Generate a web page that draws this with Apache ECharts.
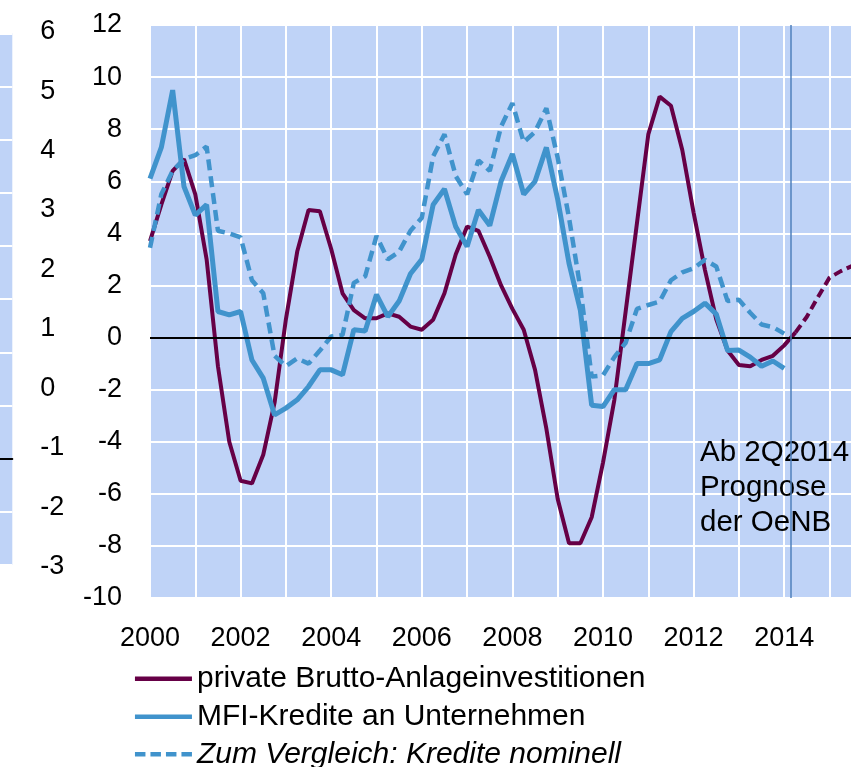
<!DOCTYPE html>
<html><head><meta charset="utf-8">
<script src="https://cdn.jsdelivr.net/npm/echarts@6/dist/echarts.min.js"></script>
<style>html,body{margin:0;padding:0;background:#fff}#c{width:851px;height:767px}</style>
</head><body><div id="c"></div>
<script>
// Quarterly data, first quarter = 2000Q1
const startYear = 2000;
const investitionen = [3.7, 5.1, 6.4, 6.85, 5.5, 3.0, -1.1, -4.0, -5.5, -5.6, -4.5, -2.5, 0.7, 3.3, 4.9, 4.85, 3.4, 1.7, 1.05, 0.74, 0.74, 0.93, 0.8, 0.42, 0.3, 0.68, 1.7, 3.2, 4.26, 4.1, 3.1, 2.0, 1.1, 0.3, -1.24, -3.5, -6.2, -7.9, -7.9, -6.9, -4.8, -2.4, 1.0, 4.4, 7.8, 9.25, 8.9, 7.2, 4.8, 2.6, 0.7, -0.5, -1.05, -1.1, -0.86, -0.7, -0.3, 0.2];
const prognoseStart = 57; // index of 2014Q2
const prognose = [0.2, 0.8, 1.57, 2.3, 2.55, 2.75];
const mfiKredite = [6.1, 7.3, 9.5, 5.8, 4.7, 5.1, 1.0, 0.87, 1.0, -0.86, -1.56, -2.97, -2.71, -2.39, -1.88, -1.24, -1.24, -1.43, 0.3, 0.25, 1.65, 0.8, 1.4, 2.45, 3.0, 5.1, 5.7, 4.25, 3.5, 4.9, 4.3, 6.0, 7.05, 5.5, 6.0, 7.3, 5.3, 2.85, 1.05, -2.6, -2.65, -2.0, -2.0, -1.0, -1.0, -0.86, 0.23, 0.74, 1.0, 1.32, 0.9, -0.5, -0.48, -0.75, -1.1, -0.9, -1.18];
const krediteNominell = [3.45, 5.5, 6.4, 6.85, 7.0, 7.33, 4.1, 4.0, 3.85, 2.2, 1.7, -0.7, -1.1, -0.8, -1.0, -0.5, 0.04, 0.1, 2.1, 2.35, 3.9, 3.0, 3.3, 4.1, 4.6, 6.95, 7.8, 6.2, 5.5, 6.8, 6.4, 8.1, 9.0, 7.5, 7.9, 8.8, 6.9, 4.6, 1.9, -1.5, -1.45, -0.75, -0.2, 1.1, 1.25, 1.38, 2.2, 2.5, 2.66, 2.98, 2.73, 1.4, 1.45, 0.95, 0.5, 0.4, 0.15];
const seriesNames = ['private Brutto-Anlageinvestitionen', 'MFI-Kredite an Unternehmen', 'Zum Vergleich: Kredite nominell'];
const lastYearLabel = 2014;
const forecastMarker = 2014.15;
const annotation = 'Ab 2Q2014\nPrognose\nder OeNB';

const FONT = 'Liberation Sans, Arial, sans-serif';
const PURPLE = '#660046', BLUE = '#4093cc';
const toXY = (arr, offset) => arr.map((v, i) => [startYear + (i + offset) / 4, v]);

const legendTops = [663.7, 701.7, 739.3];
const mkLegend = (name, top, extraText, lineStyle) => ({
  orient: 'vertical', left: 132.7, top: top, padding: 0, itemWidth: 57, itemHeight: 28, itemGap: 0,
  textStyle: Object.assign({fontSize: 30, color: '#000', fontFamily: FONT, lineHeight: 28}, extraText || {}),
  itemStyle: {opacity: 0, borderWidth: 0},
  lineStyle: lineStyle,
  data: [{name: name}]
});

const chart = echarts.init(document.getElementById('c'), null, {renderer: 'canvas'});
chart.setOption({
  animation: false,
  grid: [
    {left: 150, top: 25, width: 724.8, height: 573, show: true, backgroundColor: '#bfd3f7', borderWidth: 0, outerBoundsMode: 'none', containLabel: false},
    {left: 0, top: 33.3, width: 12.3, height: 531.7, show: true, backgroundColor: '#bfd3f7', borderWidth: 0, outerBoundsMode: 'none', containLabel: false},
    {left: 0, top: 31.7, width: 12.3, height: 535, show: false, outerBoundsMode: 'none', containLabel: false}
  ],
  xAxis: [
    {gridIndex: 0, type: 'value', min: 2000, max: 2016, interval: 1,
     axisLine: {show: false}, axisTick: {show: false},
     splitLine: {show: true, lineStyle: {color: '#fff', width: 2}},
     axisLabel: {formatter: v => (v % 2 === 0 && v <= lastYearLabel ? String(v) : ''), fontSize: 27, color: '#000', margin: 27, fontFamily: FONT}},
    {gridIndex: 1, type: 'value', min: 0, max: 1,
     axisLabel: {show: false}, axisTick: {show: false}, splitLine: {show: false},
     axisLine: {show: true, onZero: true, lineStyle: {color: '#000', width: 2}}},
    {gridIndex: 2, type: 'value', min: 0, max: 1, show: false}
  ],
  yAxis: [
    {gridIndex: 0, type: 'value', min: -10, max: 12, interval: 2,
     axisLine: {show: false}, axisTick: {show: false},
     splitLine: {lineStyle: {color: '#fff', width: 2}},
     axisLabel: {fontSize: 27, color: '#000', margin: 28, fontFamily: FONT}},
    {gridIndex: 1, type: 'value', min: -2, max: 8, interval: 1,
     axisLine: {show: false}, axisTick: {show: false}, axisLabel: {show: false},
     splitLine: {lineStyle: {color: '#fff', width: 2}}},
    {gridIndex: 2, type: 'value', min: -3, max: 6, interval: 1, position: 'right',
     axisLine: {show: false}, axisTick: {show: false}, splitLine: {show: false},
     axisLabel: {fontSize: 27, color: '#000', margin: 28, fontFamily: FONT}}
  ],
  legend: [
    mkLegend(seriesNames[0], legendTops[0], null, {width: 4.5}),
    mkLegend(seriesNames[1], legendTops[1], null, {width: 4.5}),
    mkLegend(seriesNames[2], legendTops[2], {fontStyle: 'italic'}, {width: 4.5, type: [10.5, 5]})
  ],
  graphic: [
    {type: 'text', left: 700, top: 435, z: 1,
     style: {text: annotation, font: '29.5px Liberation Sans', fill: '#000', lineHeight: 35}}
  ],
  series: [
    {type: 'line', name: 'markers', xAxisIndex: 0, yAxisIndex: 0, data: [], z: 1, silent: true,
     markLine: {silent: true, symbol: 'none', label: {show: false},
       data: [
         {yAxis: 0, lineStyle: {color: '#000', width: 2, type: 'solid'}},
         {xAxis: forecastMarker, lineStyle: {color: '#4f81bd', width: 1.5, type: 'solid'}}
       ]}},
    {type: 'line', name: seriesNames[0], xAxisIndex: 0, yAxisIndex: 0, z: 3,
     data: toXY(investitionen, 0), symbol: 'none',
     lineStyle: {color: PURPLE, width: 4}, itemStyle: {color: PURPLE}},
    {type: 'line', name: 'prognose', xAxisIndex: 0, yAxisIndex: 0, z: 3,
     data: toXY(prognose, prognoseStart), symbol: 'none',
     lineStyle: {color: PURPLE, width: 4, type: [9, 5]}},
    {type: 'line', name: seriesNames[1], xAxisIndex: 0, yAxisIndex: 0, z: 3,
     data: toXY(mfiKredite, 0), symbol: 'none',
     lineStyle: {color: BLUE, width: 5}, itemStyle: {color: BLUE}},
    {type: 'line', name: seriesNames[2], xAxisIndex: 0, yAxisIndex: 0, z: 3,
     data: toXY(krediteNominell, 0), symbol: 'none',
     lineStyle: {color: BLUE, width: 4.5, type: [11, 6]}, itemStyle: {color: BLUE}}
  ]
});
</script></body></html>
